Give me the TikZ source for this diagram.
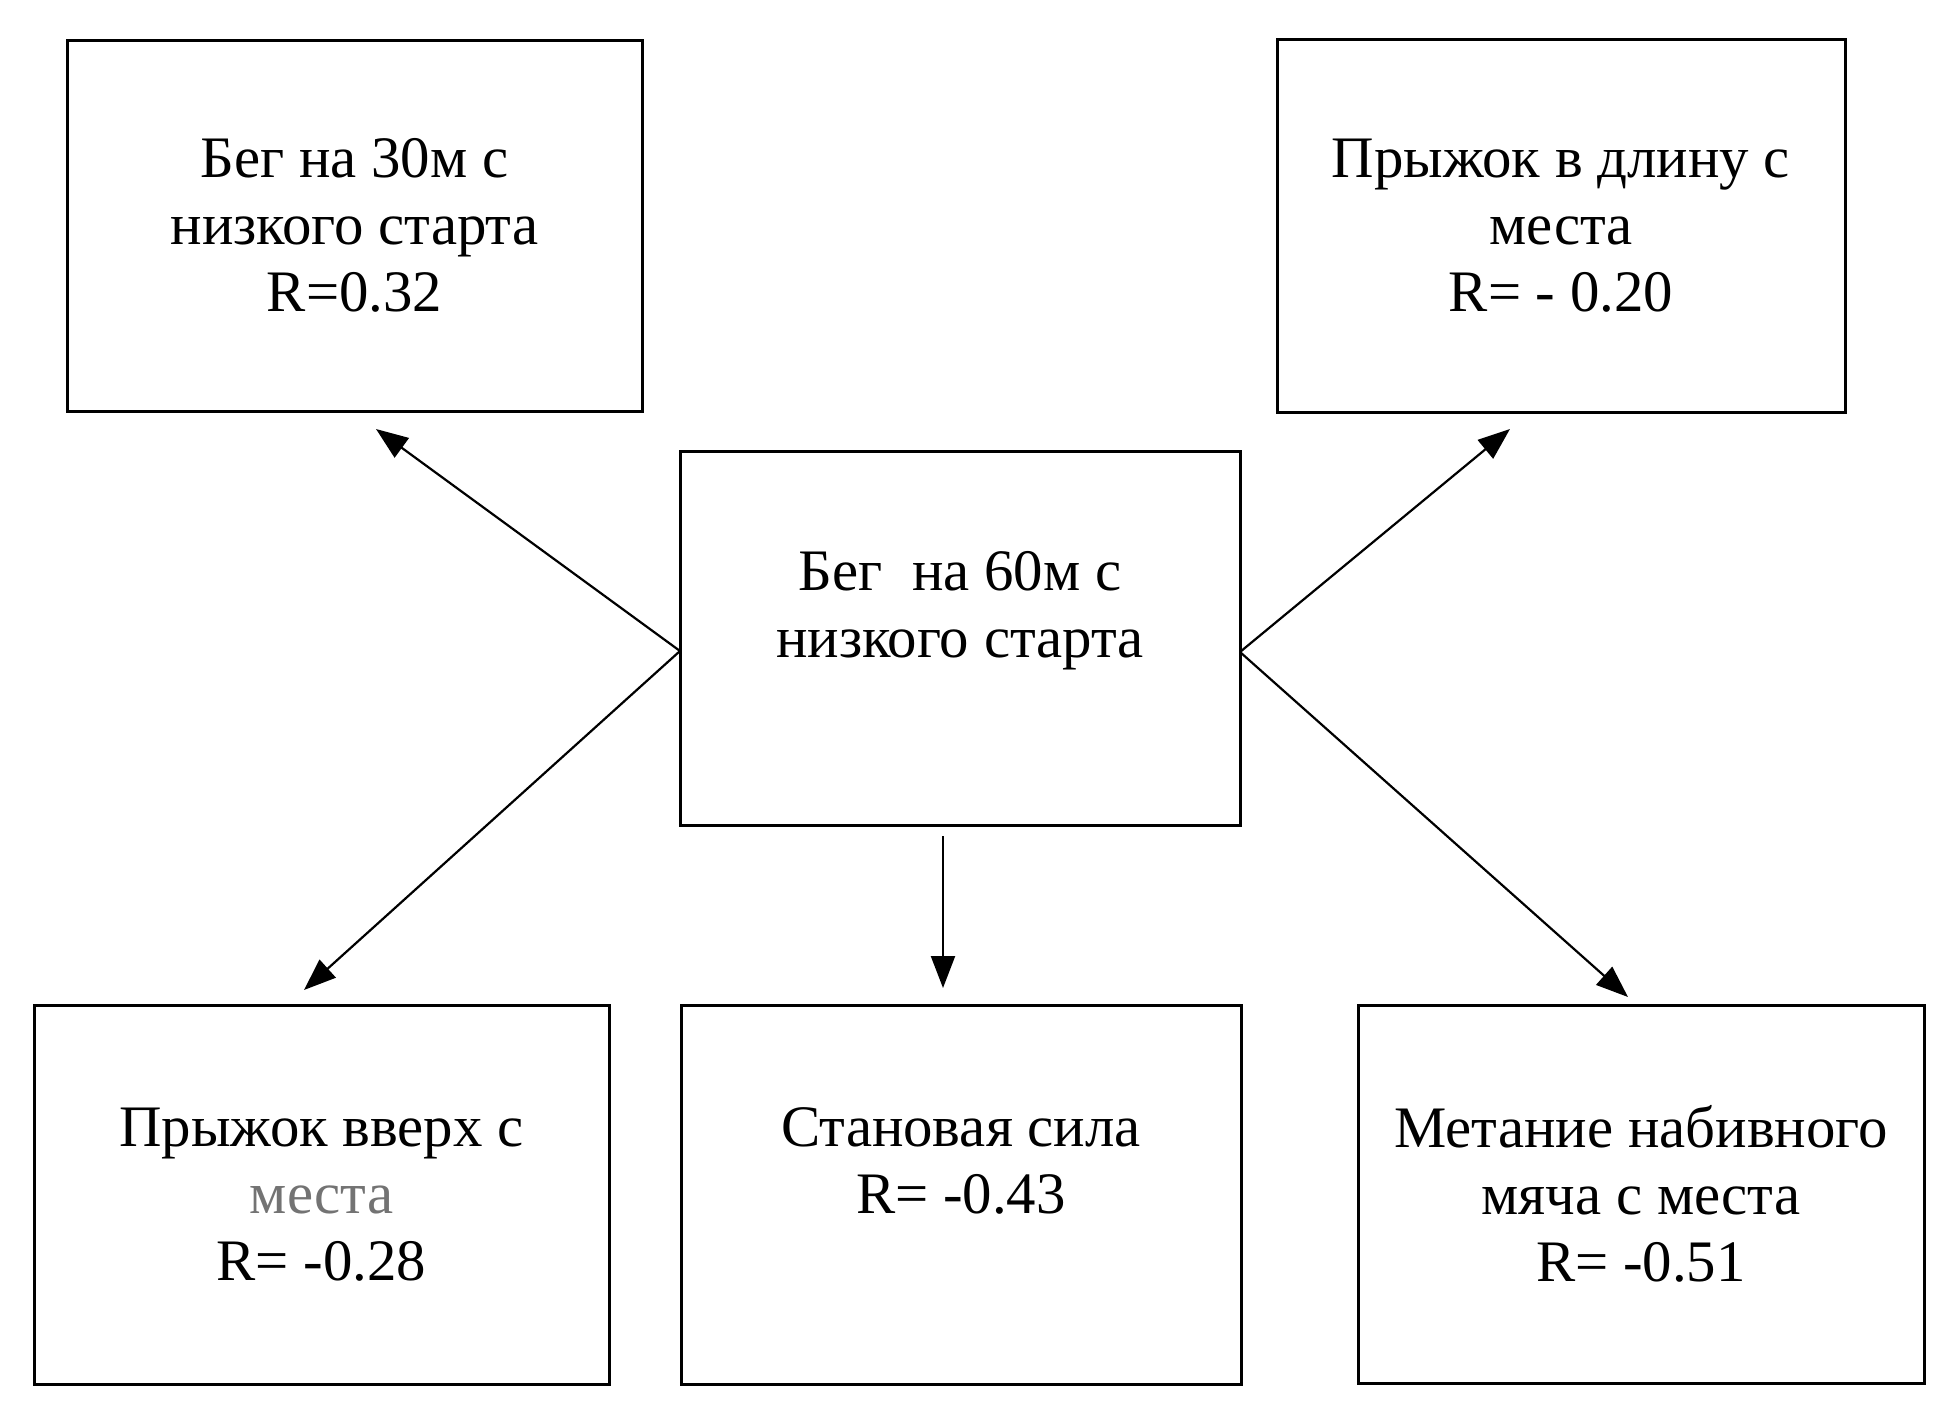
\documentclass[tikz,border=0pt]{standalone}
\usepackage{fontspec}
\setmainfont{Liberation Serif}
\usetikzlibrary{arrows.meta}

\begin{document}
\begin{tikzpicture}[x=0.25pt,y=-0.25pt,
  box/.style={draw,line width=0.75pt,align=center,inner sep=0pt,
    font=\fontsize{14.7}{16.75}\selectfont},
  link/.style={line width=0.55pt,-{Triangle[length=8pt,width=6pt]}}]
\useasboundingbox (0,0) rectangle (1952,1413);
\node[box,minimum width=143.75pt,minimum height=92.75pt] (run30) at (354.5,225.5)
  {Бег на 30м с\\низкого старта\\R=0.32};
\node[box,minimum width=142pt,minimum height=93.25pt] (longjump) at (1561,225.5)
  {Прыжок в длину с\\места\\R= - 0.20};
\node[box,minimum width=140pt,minimum height=93.5pt] (run60) at (960,638)
  {Бег\ \ на 60м с\\низкого старта\\~};
\node[box,minimum width=143.75pt,minimum height=94.75pt] (highjump) at (321.5,1194.5)
  {Прыжок вверх с\\\textcolor{black!55}{места}\\R= -0.28};
\node[box,minimum width=140pt,minimum height=94.75pt] (pull) at (961,1194.5)
  {Становая сила\\R= -0.43\\~};
\node[box,minimum width=141.5pt,minimum height=94.5pt] (throw) at (1641,1194)
  {Метание набивного\\мяча с места\\R= -0.51};

\coordinate (outleft) at (680,651);
\coordinate (outright) at (1240,652);
\coordinate (outdown) at (943,836);
\coordinate (torun30) at (376,429);
\coordinate (tolongjump) at (1510,429);
\coordinate (tohighjump) at (304,990);
\coordinate (topull) at (943,988);
\coordinate (tothrow) at (1628,997);

\draw[link] (outleft) -- (torun30);
\draw[link] (outright) -- (tolongjump);
\draw[link] (outleft) -- (tohighjump);
\draw[link] (outdown) -- (topull);
\draw[link] (outright) -- (tothrow);
\end{tikzpicture}
\end{document}
